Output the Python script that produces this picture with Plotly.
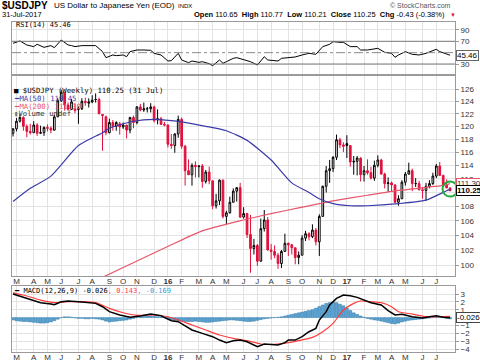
import numpy as np
import pandas as pd
import plotly.graph_objects as go

# ---------------- data ----------------
weeks = pd.date_range("2015-02-23", periods=128, freq="7D")

opens = [118.9,119.6,120.8,121.4,120.0,119.2,119.0,120.2,118.9,119.0,
         119.8,119.7,119.4,121.5,124.1,125.4,123.4,122.7,122.5,122.7,
         122.8,124.0,123.7,123.9,124.3,124.3,121.9,121.5,119.0,120.6,
         120.0,120.4,119.9,120.2,119.4,121.4,120.6,123.1,122.6,122.8,
         122.8,123.1,121.0,121.2,120.3,120.2,117.2,117.0,118.8,121.1,
         116.9,113.2,112.6,114.0,113.8,113.9,111.6,113.0,111.7,108.1,
         108.8,111.8,106.6,107.1,108.6,110.2,110.7,106.5,107.0,104.1,
         102.2,102.6,100.5,104.9,106.1,102.0,101.8,101.3,100.2,101.8,
         102.9,102.7,102.3,101.0,101.3,103.6,104.2,103.8,104.7,103.1,
         106.6,110.9,113.2,113.5,115.2,117.9,117.1,117.3,117.0,114.5,
         114.6,115.1,112.6,113.2,112.9,112.1,114.0,114.8,112.7,111.3,
         111.4,111.1,108.6,109.1,111.5,112.7,113.2,111.3,111.3,110.4,
         110.3,110.9,111.3,112.4,113.9,112.5,111.1,110.65]
highs = [119.7,121.3,122.0,121.6,120.3,120.4,120.8,120.5,120.1,120.0,
         120.3,120.0,121.8,124.5,125.9,125.4,123.8,124.4,123.7,123.2,
         124.5,124.6,124.5,125.0,125.3,124.6,121.9,121.7,121.2,121.0,
         120.8,120.7,120.6,120.2,121.5,121.7,123.2,123.6,123.8,123.1,
         123.7,123.3,122.7,121.5,120.7,120.3,118.8,118.9,121.7,121.4,
         117.1,114.9,114.3,114.6,114.0,114.2,113.3,113.8,111.7,109.8,
         111.9,111.9,107.4,109.4,110.6,110.8,111.4,107.9,107.1,106.8,
         103.5,102.8,106.3,107.5,106.5,102.8,102.6,101.6,102.0,104.2,
         103.0,102.8,102.3,101.8,104.0,104.6,104.4,105.5,105.0,106.9,
         111.0,113.9,114.8,115.4,118.7,118.2,117.5,118.6,117.0,115.4,
         115.4,115.2,113.9,114.9,113.8,114.7,115.5,115.0,112.9,112.2,
         111.6,111.2,109.6,111.8,113.0,114.4,113.5,112.1,111.7,110.8,
         111.4,111.8,112.9,114.2,114.5,112.6,111.9,110.77]
lows = [118.4,119.2,120.6,119.3,118.3,118.7,119.0,118.5,118.8,118.5,
        119.2,118.9,119.3,121.5,123.9,122.5,122.5,122.6,122.1,120.4,
        122.6,123.3,123.0,123.7,123.8,121.9,116.2,118.6,118.9,119.3,
        119.3,118.7,119.6,118.1,118.9,119.7,120.3,122.4,122.3,122.2,
        122.2,120.6,120.3,120.3,120.0,116.7,116.5,115.9,118.2,116.5,
        111.0,112.6,111.0,112.2,112.2,110.7,111.3,111.2,107.6,107.7,
        108.2,106.3,105.5,107.0,108.6,108.7,106.4,106.3,103.6,99.0,
        101.4,99.9,100.5,104.5,101.9,100.7,100.9,99.5,99.6,101.8,
        101.2,101.4,100.1,100.1,101.3,103.2,103.3,103.6,102.6,101.2,
        106.6,110.0,111.4,113.0,114.8,116.6,116.0,115.1,113.8,112.6,
        112.5,111.6,111.6,112.6,111.9,111.7,113.7,112.6,110.6,110.1,
        110.1,108.5,108.1,109.1,111.0,112.6,110.2,110.8,110.3,109.1,
        108.8,110.6,111.1,112.1,112.4,110.9,110.6,110.21]
closes = [119.6,120.8,121.4,120.0,119.2,119.0,120.2,118.9,119.0,119.8,
          119.7,119.4,121.5,124.1,125.5,123.4,122.7,123.9,122.8,122.8,
          124.0,123.8,123.9,124.2,124.3,122.0,121.7,119.0,120.6,120.0,
          120.6,119.9,120.2,119.4,121.4,120.6,123.1,122.6,122.8,122.8,
          123.1,120.9,121.2,120.3,120.2,117.2,117.0,118.8,121.1,116.9,
          113.2,112.6,114.0,113.8,113.9,111.6,113.0,111.7,108.1,108.8,
          111.8,106.6,107.1,108.6,110.2,110.7,106.5,107.0,104.1,102.2,
          102.6,100.5,104.9,106.1,102.0,101.8,101.3,100.2,101.8,102.9,
          102.7,102.3,101.0,101.3,103.6,104.2,103.8,104.7,103.1,106.6,
          110.9,113.2,113.5,115.2,117.9,117.1,116.9,117.0,114.5,114.6,
          115.1,112.6,113.2,112.9,112.1,114.0,114.8,112.7,111.3,111.4,
          111.1,108.6,109.1,111.5,112.7,113.2,111.3,111.3,110.4,110.3,
          110.9,111.3,112.4,113.9,112.5,111.1,110.68,110.25]

# moving averages (week index, value)
ma50_idx = [0, 5, 11, 19, 26, 28, 35, 41, 46, 49, 56, 62, 68, 75, 81, 86, 89, 93, 98, 103, 112, 120, 126, 127]
ma50_val = [108.7, 110.6, 112.4, 117.0, 119.0, 119.7, 120.8, 121.1, 120.9, 120.7, 120.0, 119.3, 117.8, 114.8, 111.4,
            110.0, 109.1, 108.4, 108.1, 108.1, 108.4, 108.9, 110.25, 110.45]
ma200_idx = [26, 34, 46, 55, 67, 75, 83, 89, 93, 103, 112, 126, 127]
ma200_val = [98.4, 100.1, 102.7, 104.6, 106.1, 107.0, 107.8, 108.4, 108.8, 109.6, 110.3, 111.1, 111.30]

# RSI(14)
rsi_idx = [0,2,4,6,7,9,11,12,14,16,17,18,20,23,24,26,27,29,30,32,33,34,36,38,40,41,43,45,46,48,49,51,52,54,55,
           57,58,60,61,62,64,65,67,69,71,73,74,77,78,80,82,84,86,88,90,92,93,95,96,98,100,101,103,106,108,110,
           111,112,114,116,118,120,123,124,127]
rsi_val = [66.5,70.6,63.5,60.6,64.7,59.4,62.4,58.8,72.3,63.5,62.4,60.6,62.4,62.4,62.4,51.8,41.2,45.9,44.7,45.9,
           42.9,51.8,54.7,54.7,54.1,48.8,45.9,35.3,35.9,48.8,37.1,32.4,35.3,32.9,34.1,30.6,27.1,37.1,31.2,34.1,
           40.0,41.2,37.1,34.1,28.2,42.9,37.1,35.3,40.0,41.2,42.4,45.9,48.8,47.1,60.6,64.7,69.4,68.2,68.2,60.6,
           60.6,54.7,54.7,57.6,50.6,48.8,41.8,45.9,51.8,47.1,45.9,48.8,55.9,51.8,45.46]

# MACD(12,26,9)
macd_idx = [0,2,5,8,11,12,14,16,20,24,26,28,31,34,37,40,43,46,48,50,52,55,58,60,62,64,66,68,70,71,73,75,77,79,
            80,82,84,86,88,89,91,92,94,96,98,100,102,104,107,109,111,113,116,119,121,123,125,127]
macd_val = [3.0,2.75,2.32,1.90,1.73,1.64,2.02,2.11,1.98,1.81,1.38,0.75,0.33,0.03,0.20,0.45,0.24,-0.39,-0.52,
            -1.07,-1.58,-2.01,-2.43,-2.86,-3.19,-2.94,-2.86,-3.07,-3.49,-3.70,-3.36,-3.41,-3.49,-3.19,-2.86,-2.86,
            -2.43,-1.80,-1.37,-0.31,0.75,1.60,2.45,2.87,2.79,2.57,2.23,1.90,1.60,0.88,0.33,0.41,0.11,-0.06,0.11,
            0.24,0.03,-0.026]
sig_idx = [0,3,8,12,16,20,24,28,32,36,41,45,48,52,56,60,64,68,72,76,80,83,87,90,93,96,99,101,104,107,110,112,
           116,120,124,127]
sig_val = [3.15,2.87,2.23,1.90,2.02,2.02,1.90,1.17,0.62,0.28,0.33,0.11,-0.31,-0.95,-1.58,-2.22,-2.64,-2.94,-3.36,
           -3.41,-3.19,-2.94,-2.52,-1.80,-0.74,0.96,1.81,2.11,2.02,1.90,1.38,0.75,0.45,0.11,0.11,0.143]
hist_val = [-0.3,-0.4,-0.45,-0.5,-0.5,-0.55,
            -0.6,-0.65,-0.7,-0.7,-0.65,-0.55,-0.4,
            -0.2,0.0,0.1,0.1,0.05,
            -0.05,-0.1,-0.1,-0.15,-0.15,-0.1,-0.15,-0.2,
            -0.3,-0.45,-0.55,-0.5,-0.45,-0.4,-0.35,-0.3,-0.2,-0.1,
            0.0,0.1,0.15,0.2,0.2,0.15,0.1,0.05,0.0,
            -0.15,-0.25,-0.35,-0.4,-0.45,-0.5,-0.5,-0.5,-0.45,-0.5,-0.55,
            -0.6,-0.6,-0.55,-0.5,-0.45,-0.4,-0.35,-0.3,-0.3,-0.35,
            -0.4,-0.45,-0.5,-0.5,-0.45,-0.35,-0.25,-0.15,-0.1,-0.05,
            0.0,0.05,0.1,0.2,0.3,0.4,0.5,0.6,0.7,
            0.8,0.9,1.0,1.2,1.4,1.6,1.8,1.9,2.0,1.9,1.7,
            1.5,1.2,0.9,0.6,0.4,0.2,0.05,-0.1,
            -0.2,-0.3,-0.35,-0.45,-0.55,-0.65,-0.75,-0.8,-0.7,-0.55,-0.45,-0.35,
            -0.3,-0.25,-0.2,-0.15,-0.1,-0.05,0.0,0.05,0.05,0.0,-0.1,-0.17]

month_labels = ["M","A","M","J","J","A","S","O","N","D","<b>16</b>","F","M","A","M","J","J","A","S","O","N","D",
                "<b>17</b>","F","M","A","M","J","J"]
price_ticks = list(range(100, 128, 2))
macd_ticks = [3, 2, 1, -1, -2, -3, -4]
rsi_ticks = [90, 70, 30]

# ---------------- styling ----------------
SANS = "Liberation Sans, Arial, sans-serif"
MONO = "DejaVu Sans Mono, monospace"
W, H = 480, 363
L, R = 12, 25
PW = W - L - R
RED = "#e0103c"
MA50C = "#3b3ba8"
MA200C = "#e8566c"
GRID = "#e3e3e3"
BORDER = "#9a9a9a"
HISTC = "#5aa3d2"


def xp(px):
    return (px - L) / PW


def yp(py):
    return 1 - py / H


n = len(closes)
prev = [closes[0]] + closes[:-1]
blk = [i for i in range(n) if closes[i] >= prev[i]]
red = [i for i in range(n) if closes[i] < prev[i]]

month_ticks = [weeks[i] for i in range(1, n) if weeks[i].month != weeks[i - 1].month]

fig = go.Figure()

# MACD panel
fig.add_trace(go.Bar(x=weeks, y=hist_val, xaxis="x", yaxis="y",
                     marker=dict(color=HISTC, line=dict(color="#2f77a6", width=0.5)),
                     width=7 * 24 * 3600 * 1000 * 0.85, hoverinfo="skip"))
fig.add_trace(go.Scatter(x=[weeks[i] for i in sig_idx], y=sig_val, xaxis="x", yaxis="y", mode="lines",
                         line=dict(color="#ff3b3b", width=1.2, shape="spline", smoothing=0.5), hoverinfo="skip"))
fig.add_trace(go.Scatter(x=[weeks[i] for i in macd_idx], y=macd_val, xaxis="x", yaxis="y", mode="lines",
                         line=dict(color="black", width=1.5), hoverinfo="skip"))

# RSI panel
fig.add_trace(go.Scatter(x=[weeks[i] for i in rsi_idx], y=rsi_val, xaxis="x3", yaxis="y3", mode="lines",
                         line=dict(color="black", width=1), hoverinfo="skip"))

# Price panel
for idxs, col, downfill in ((blk, "black", "black"), (red, RED, RED)):
    fig.add_trace(go.Candlestick(
        x=[weeks[i] for i in idxs], open=[opens[i] for i in idxs], high=[highs[i] for i in idxs],
        low=[lows[i] for i in idxs], close=[closes[i] for i in idxs], xaxis="x2", yaxis="y2",
        increasing=dict(line=dict(color=col, width=1), fillcolor="white"),
        decreasing=dict(line=dict(color=col, width=1), fillcolor=downfill),
        whiskerwidth=0, hoverinfo="skip"))
fig.add_trace(go.Scatter(x=[weeks[i] for i in ma200_idx], y=ma200_val, xaxis="x2", yaxis="y2", mode="lines",
                         line=dict(color=MA200C, width=1.2, shape="spline", smoothing=0.6), hoverinfo="skip"))
fig.add_trace(go.Scatter(x=[weeks[i] for i in ma50_idx], y=ma50_val, xaxis="x2", yaxis="y2", mode="lines",
                         line=dict(color=MA50C, width=1.2, shape="spline", smoothing=0.6), hoverinfo="skip"))
fig.add_trace(go.Scatter(x=[weeks[-1]], y=[110.5], xaxis="x2", yaxis="y2", mode="markers",
                         marker=dict(symbol="circle-open", size=15, color="#1faa3c", line=dict(width=2)),
                         hoverinfo="skip"))

xr = ["2015-02-20 21:00", "2017-08-10"]
xcommon = dict(range=xr, type="date", tickmode="array", tickvals=month_ticks, ticktext=month_labels,
               showgrid=True, gridcolor=GRID, gridwidth=1, showline=True, linecolor=BORDER, mirror=True,
               ticks="", tickfont=dict(family=SANS, size=8, color="#333"), zeroline=False,
               automargin=False, rangeslider=dict(visible=False), fixedrange=True, ticklabelstandoff=-3)
ycommon = dict(side="right", showgrid=True, gridcolor=GRID, gridwidth=1, showline=True, linecolor=BORDER,
               mirror=True, ticks="outside", ticklen=3, tickcolor=BORDER, zeroline=False,
               tickfont=dict(family=SANS, size=8, color="#333"), automargin=False, fixedrange=True)

fig.update_layout(
    width=W, height=H, margin=dict(l=L, r=R, t=0, b=0),
    paper_bgcolor="white", plot_bgcolor="white", showlegend=False,
    xaxis=dict(**xcommon, anchor="y", domain=[0, 1]),
    xaxis2=dict(**xcommon, anchor="y2", matches="x"),
    xaxis3=dict(**{**xcommon, "showticklabels": False}, anchor="y3", matches="x"),
    yaxis=dict(**ycommon, domain=[yp(352), yp(286)], range=[-4.38, 4.02], tickvals=macd_ticks, anchor="x"),
    yaxis2=dict(**ycommon, domain=[yp(276), yp(76)], type="log",
                range=[np.log10(98.57), np.log10(128.2)], tickvals=price_ticks, anchor="x2"),
    yaxis3=dict(**ycommon, domain=[yp(74), yp(22)], range=[12.4, 104], tickvals=rsi_ticks, anchor="x3"),
)

shapes = [
    dict(type="line", xref="x3 domain", x0=0, x1=1, yref="y3", y0=70, y1=70, line=dict(color="#7a7a7a", width=1)),
    dict(type="line", xref="x3 domain", x0=0, x1=1, yref="y3", y0=30, y1=30, line=dict(color="#7a7a7a", width=1)),
    dict(type="line", xref="x3 domain", x0=0, x1=1, yref="y3", y0=50, y1=50,
         line=dict(color="#8a8a8a", width=1, dash="dashdot")),
]
fig.update_layout(shapes=shapes)

ann = []


def text(t, px, py, size=8, color="black", family=SANS, xanchor="left"):
    ann.append(dict(text=t, x=xp(px), y=yp(py), xref="paper", yref="paper", showarrow=False,
                    xanchor=xanchor, yanchor="middle", font=dict(family=family, size=size, color=color)))


# header
text("<b>$USDJPY</b>", 0, 6, size=10)
text("US Dollar to Japanese Yen (EOD)", 52, 6, size=8)
text("INDX", 176, 6, size=6)
text("31-Jul-2017", 0, 15, size=7.5)
text("<b>Open</b> 110.65  <b>High</b> 110.77  <b>Low</b> 110.21  <b>Close</b> 110.25  <b>Chg</b> -0.43 (-0.38%)",
     447, 15, size=7.5, xanchor="right")
text("▼", 448, 15, size=6, color=RED)
text("© StockCharts.com", 453, 5, size=7, color="#555", xanchor="right")

# panel legends
text("RSI(14) 45.46", 14, 25, size=7, family=MONO)
text("■ $USDJPY (Weekly) 110.25 (31 Jul)", 12, 90, size=7.3, family=MONO)
text("<span style='color:%s'>━</span>MA(50) 110.45" % MA50C, 12, 98, size=7.3, family=MONO, color=MA50C)
text("<span style='color:%s'>━</span>MA(200) 111.30" % MA200C, 12, 106, size=7.3, family=MONO, color=MA200C)
text("<span style='color:#777'>▮</span>Volume undef", 12, 113.5, size=7.3, family=MONO, color="#333")
text("━ MACD(12,26,9) -0.026<span style='color:#ff3b3b'>, 0.143</span><span style='color:#3d9ad6'>, -0.169</span>",
     12, 291, size=7, family=MONO)


def box(t, yref, y, border, color="black"):
    ann.append(dict(text=t, x=1, y=y, xref="paper", yref=yref, showarrow=False, xanchor="left", yanchor="middle",
                    xshift=1, font=dict(family=SANS, size=8, color=color), bgcolor="white",
                    bordercolor=border, borderwidth=1, borderpad=0))


box("45.46", "y3", 45.46, "#666")
box("111.30", "y2", np.log10(111.30), MA200C, "#333")
box("<b>110.25</b>", "y2", np.log10(110.25), "black")
box("-0.026", "y", -0.026, "#444")

fig.update_layout(annotations=ann)
fig.write_html("out.html", config={"displayModeBar": False, "staticPlot": True},
               post_script="document.body.style.margin='0';document.body.style.overflow='hidden';")
